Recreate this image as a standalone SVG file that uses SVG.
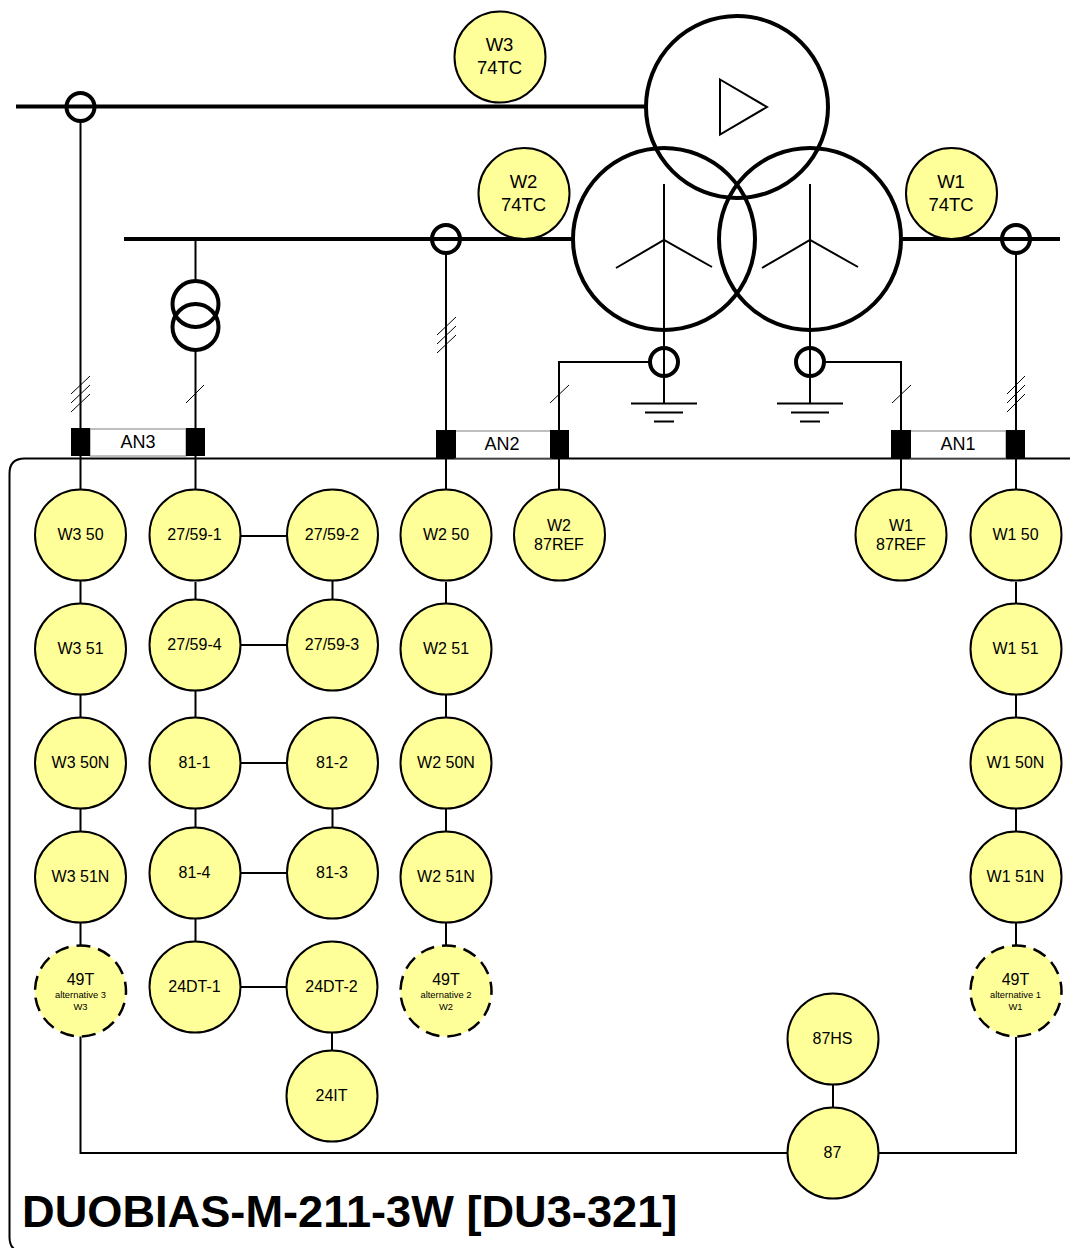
<svg xmlns="http://www.w3.org/2000/svg" width="1070" height="1248" viewBox="0 0 1070 1248">
<style>
.f{fill:#ffff99;stroke:#000;stroke-width:2}
.d{fill:#ffff99;stroke:#000;stroke-width:2.500;stroke-dasharray:14 8;stroke-dashoffset:10}
.t{font-family:"Liberation Sans",Arial,sans-serif;font-size:16px;fill:#000;text-anchor:middle}
.b{font-size:18.500px}
.a{font-size:18px}
.s{font-size:9.400px}
.w{fill:none;stroke:#000;stroke-width:4}
.c{fill:none;stroke:#000;stroke-width:2}
.m{fill:none;stroke:#000;stroke-width:1}
.k{fill:#000}
.g{fill:#fff;stroke:#808080;stroke-width:1}
</style>
<rect width="1070" height="1248" fill="#fff"/>
<g id="connectors">
<path class="c" d="M80.500 120V430M195.500 239V282M195.500 350V430M446 253V430M559 430V362H650M664 184V403M810 184V403M824 362H901V430M1016 253V430"/>
<path class="c" d="M80.500 456V1153H787M195.500 456V490M446 456V490M559 456V490M901 456V490M1016 456V490"/>
<path class="c" d="M195.500 582V600M195.500 690V718M195.500 808V828M195.500 918V942M241 536H287M241 645H287M241 763H287M241 873H287M241 987H287M332.500 581V600M332.500 808V828M332 1032V1051M446 582V604M446 694V718M446 808V832M446 922V946M833 1084V1107M879 1153H1016V1037M1016 582V604M1016 694V718M1016 808V832M1016 922V946"/>
<path class="w" d="M16 106.500H646M124 239H573M901 239H1060"/>
<path class="c" d="M631 403.500H697M645 412.500H683M654 421.500H674M777 403.500H843M791 412.500H829M800 421.500H820"/>
<path class="m" d="M71 394L90 376M71 403L90 385M71 412L90 394M186 403L204 385M437 335L456 317M437 344L456 326M437 353L456 335M550 403L569 385M892 403L911 385M1007 394L1025 376M1007 403L1025 385M1007 412L1025 394"/>
</g>
<g id="panel"><path fill="none" stroke="#000" stroke-width="2" d="M1072 458.500H24.500Q9.500 458.500 9.500 473.500V1237Q9.500 1252 24.500 1252H1072"/></g>
<g id="transformer">
<circle class="w" cx="737" cy="107" r="91"/>
<circle class="w" cx="664" cy="239" r="91"/>
<circle class="w" cx="810" cy="239" r="91"/>
<path class="c" d="M720 79.500L767 107L720 134.500ZM616 268L664 240L712 267M762 268L810 240L858 267"/>
</g>
<g id="ct-w3"><circle class="w" cx="80.500" cy="107" r="14"/></g>
<g id="ct-w2"><circle class="w" cx="446" cy="239" r="14"/></g>
<g id="ct-w1"><circle class="w" cx="1016" cy="239" r="14"/></g>
<g id="ct-n2"><circle class="w" cx="664" cy="362" r="14"/></g>
<g id="ct-n1"><circle class="w" cx="810" cy="362" r="14"/></g>
<g id="vt"><circle class="w" cx="195.500" cy="304" r="23"/><circle class="w" cx="195.500" cy="327" r="23"/></g>
<g id="an3"><rect class="g" x="90" y="429" width="96" height="27"/><rect class="k" x="71" y="428" width="19" height="28"/><rect class="k" x="186" y="428" width="19" height="28"/><text class="t a" x="138" y="448">AN3</text></g>
<g id="an2"><rect class="g" x="455" y="431" width="96" height="27"/><rect class="k" x="436" y="430" width="20" height="28"/><rect class="k" x="550" y="430" width="19" height="28"/><text class="t a" x="502" y="450">AN2</text></g>
<g id="an1"><rect class="g" x="910" y="431" width="96" height="27"/><rect class="k" x="891" y="430" width="20" height="28"/><rect class="k" x="1006" y="430" width="19" height="28"/><text class="t a" x="958" y="450">AN1</text></g>
<g id="w3-74tc"><circle class="f" cx="500" cy="57" r="45.500"/><text class="t b" x="499.500" y="51">W3</text><text class="t b" x="499.500" y="74">74TC</text></g>
<g id="w2-74tc"><circle class="f" cx="524" cy="193.500" r="45.500"/><text class="t b" x="523.500" y="188">W2</text><text class="t b" x="523.500" y="211">74TC</text></g>
<g id="w1-74tc"><circle class="f" cx="951.500" cy="193.500" r="45.500"/><text class="t b" x="951" y="188">W1</text><text class="t b" x="951" y="211">74TC</text></g>
<g id="w3-50"><circle class="f" cx="80.500" cy="535" r="45.500"/><text class="t" x="80.500" y="540">W3 50</text></g>
<g id="w3-51"><circle class="f" cx="80.500" cy="649" r="45.500"/><text class="t" x="80.500" y="654">W3 51</text></g>
<g id="w3-50n"><circle class="f" cx="80.500" cy="763" r="45.500"/><text class="t" x="80.500" y="768">W3 50N</text></g>
<g id="w3-51n"><circle class="f" cx="80.500" cy="877" r="45.500"/><text class="t" x="80.500" y="882">W3 51N</text></g>
<g id="w3-49t"><circle class="d" cx="80.500" cy="991" r="45.500"/><text class="t" x="80.500" y="985">49T</text><text class="t s" x="80.500" y="998">alternative 3</text><text class="t s" x="80.500" y="1010">W3</text></g>
<g id="n27-59-1"><circle class="f" cx="195" cy="535" r="45.500"/><text class="t" x="194.500" y="540">27/59-1</text></g>
<g id="n27-59-2"><circle class="f" cx="332.500" cy="535" r="45.500"/><text class="t" x="332" y="540">27/59-2</text></g>
<g id="n27-59-4"><circle class="f" cx="195" cy="645" r="45.500"/><text class="t" x="194.500" y="650">27/59-4</text></g>
<g id="n27-59-3"><circle class="f" cx="332.500" cy="645" r="45.500"/><text class="t" x="332" y="650">27/59-3</text></g>
<g id="n81-1"><circle class="f" cx="195" cy="763" r="45.500"/><text class="t" x="194.500" y="768">81-1</text></g>
<g id="n81-2"><circle class="f" cx="332.500" cy="763" r="45.500"/><text class="t" x="332" y="768">81-2</text></g>
<g id="n81-4"><circle class="f" cx="195" cy="873" r="45.500"/><text class="t" x="194.500" y="878">81-4</text></g>
<g id="n81-3"><circle class="f" cx="332.500" cy="873" r="45.500"/><text class="t" x="332" y="878">81-3</text></g>
<g id="n24dt-1"><circle class="f" cx="195" cy="987" r="45.500"/><text class="t" x="194.500" y="992">24DT-1</text></g>
<g id="n24dt-2"><circle class="f" cx="332" cy="987" r="45.500"/><text class="t" x="331.500" y="992">24DT-2</text></g>
<g id="n24it"><circle class="f" cx="332" cy="1096" r="45.500"/><text class="t" x="331.500" y="1101">24IT</text></g>
<g id="w2-50"><circle class="f" cx="446" cy="535" r="45.500"/><text class="t" x="446" y="540">W2 50</text></g>
<g id="w2-51"><circle class="f" cx="446" cy="649" r="45.500"/><text class="t" x="446" y="654">W2 51</text></g>
<g id="w2-50n"><circle class="f" cx="446" cy="763" r="45.500"/><text class="t" x="446" y="768">W2 50N</text></g>
<g id="w2-51n"><circle class="f" cx="446" cy="877" r="45.500"/><text class="t" x="446" y="882">W2 51N</text></g>
<g id="w2-49t"><circle class="d" cx="446" cy="991" r="45.500"/><text class="t" x="446" y="985">49T</text><text class="t s" x="446" y="998">alternative 2</text><text class="t s" x="446" y="1010">W2</text></g>
<g id="w2-87ref"><circle class="f" cx="559.500" cy="535" r="45.500"/><text class="t" x="559" y="531">W2</text><text class="t" x="559" y="550">87REF</text></g>
<g id="w1-87ref"><circle class="f" cx="901" cy="535" r="45.500"/><text class="t" x="901" y="531">W1</text><text class="t" x="901" y="550">87REF</text></g>
<g id="w1-50"><circle class="f" cx="1016" cy="535" r="45.500"/><text class="t" x="1015.500" y="540">W1 50</text></g>
<g id="w1-51"><circle class="f" cx="1016" cy="649" r="45.500"/><text class="t" x="1015.500" y="654">W1 51</text></g>
<g id="w1-50n"><circle class="f" cx="1016" cy="763" r="45.500"/><text class="t" x="1015.500" y="768">W1 50N</text></g>
<g id="w1-51n"><circle class="f" cx="1016" cy="877" r="45.500"/><text class="t" x="1015.500" y="882">W1 51N</text></g>
<g id="w1-49t"><circle class="d" cx="1016" cy="991" r="45.500"/><text class="t" x="1015.500" y="985">49T</text><text class="t s" x="1015.500" y="998">alternative 1</text><text class="t s" x="1015.500" y="1010">W1</text></g>
<g id="n87hs"><circle class="f" cx="833" cy="1039" r="45.500"/><text class="t" x="832.500" y="1044">87HS</text></g>
<g id="n87"><circle class="f" cx="833" cy="1153" r="45.500"/><text class="t" x="832.500" y="1158">87</text></g>
<text id="title" x="22" y="1227" font-family="Liberation Sans, Arial, sans-serif" font-size="45.200" font-weight="700">DUOBIAS-M-211-3W [DU3-321]</text>
</svg>
